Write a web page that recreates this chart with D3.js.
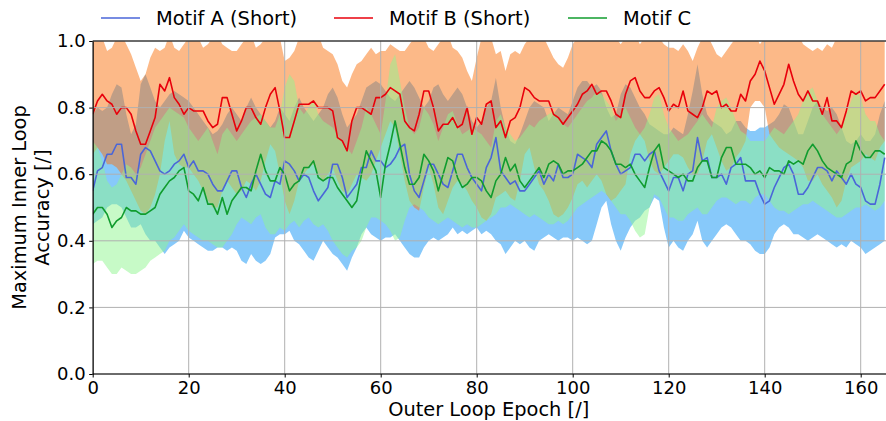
<!DOCTYPE html>
<html><head><meta charset="utf-8">
<script src="https://cdn.jsdelivr.net/npm/d3@7/dist/d3.min.js"></script>
<style>body{margin:0;background:#fff}svg{display:block}text{font-family:"DejaVu Sans",sans-serif;fill:#000}</style>
</head><body><svg id="chart" width="886" height="421"></svg>
<script>
const seriesNames = ["Motif A (Short)", "Motif B (Short)", "Motif C"];
const xTicks = [0, 20, 40, 60, 80, 100, 120, 140, 160];
const yTicks = [0.0, 0.2, 0.4, 0.6, 0.8, 1.0];
const xLabel = "Outer Loop Epoch [/]";
const yLabelLines = ["Maximum Inner Loop", "Accuracy [/]"];

const meanA = [0.55,0.61,0.62,0.66,0.66,0.69,0.69,0.59,0.59,0.57,
 0.66,0.68,0.67,0.64,0.61,0.60,0.61,0.63,0.64,0.66,
 0.62,0.64,0.61,0.61,0.60,0.57,0.55,0.55,0.58,0.61,
 0.61,0.56,0.53,0.57,0.60,0.57,0.54,0.53,0.58,0.57,
 0.64,0.63,0.61,0.58,0.60,0.59,0.55,0.52,0.54,0.56,
 0.63,0.63,0.59,0.53,0.55,0.57,0.62,0.62,0.67,0.64,
 0.64,0.62,0.63,0.65,0.68,0.69,0.60,0.55,0.53,0.58,
 0.63,0.63,0.60,0.57,0.56,0.61,0.66,0.66,0.62,0.59,
 0.57,0.55,0.62,0.65,0.71,0.61,0.59,0.57,0.58,0.55,
 0.55,0.57,0.59,0.61,0.57,0.60,0.58,0.63,0.59,0.59,
 0.60,0.66,0.65,0.64,0.62,0.69,0.71,0.73,0.67,0.63,
 0.60,0.61,0.62,0.66,0.66,0.64,0.66,0.67,0.61,0.58,
 0.55,0.59,0.59,0.55,0.60,0.61,0.71,0.64,0.65,0.59,
 0.59,0.60,0.57,0.62,0.63,0.65,0.58,0.58,0.58,0.54,
 0.51,0.52,0.56,0.59,0.62,0.63,0.60,0.54,0.54,0.56,
 0.59,0.62,0.62,0.61,0.58,0.61,0.59,0.57,0.60,0.57,
 0.56,0.52,0.51,0.51,0.57,0.65];
const lowA = [0.45,0.46,0.47,0.50,0.51,0.51,0.50,0.47,0.44,0.44,
 0.45,0.42,0.40,0.40,0.38,0.36,0.38,0.39,0.40,0.43,
 0.41,0.40,0.39,0.38,0.37,0.37,0.38,0.38,0.37,0.38,
 0.37,0.34,0.33,0.36,0.34,0.33,0.34,0.36,0.41,0.42,
 0.42,0.43,0.40,0.39,0.37,0.35,0.34,0.37,0.40,0.38,
 0.36,0.35,0.33,0.31,0.35,0.38,0.42,0.44,0.42,0.41,
 0.40,0.41,0.41,0.42,0.40,0.38,0.36,0.35,0.35,0.38,
 0.40,0.41,0.40,0.41,0.42,0.44,0.42,0.43,0.42,0.43,
 0.44,0.42,0.43,0.42,0.40,0.39,0.36,0.38,0.40,0.39,
 0.40,0.38,0.37,0.40,0.41,0.42,0.41,0.40,0.41,0.41,
 0.40,0.41,0.40,0.39,0.40,0.45,0.50,0.52,0.45,0.40,
 0.37,0.41,0.44,0.46,0.47,0.49,0.50,0.53,0.52,0.44,
 0.38,0.40,0.38,0.37,0.40,0.42,0.46,0.40,0.38,0.40,
 0.42,0.44,0.45,0.44,0.42,0.40,0.40,0.39,0.37,0.36,
 0.36,0.38,0.42,0.44,0.45,0.44,0.42,0.42,0.41,0.40,
 0.41,0.42,0.41,0.40,0.39,0.38,0.39,0.38,0.40,0.39,
 0.38,0.36,0.37,0.38,0.39,0.40];
const highA = [0.78,0.80,0.79,0.80,0.84,0.87,0.86,0.78,0.72,0.75,
 0.87,0.90,0.86,0.82,0.80,0.82,0.84,0.85,0.84,0.83,
 0.82,0.80,0.78,0.76,0.74,0.72,0.73,0.75,0.78,0.80,
 0.78,0.76,0.80,0.83,0.80,0.78,0.76,0.74,0.76,0.80,
 0.78,0.76,0.80,0.83,0.80,0.78,0.76,0.78,0.80,0.84,
 0.86,0.83,0.78,0.74,0.76,0.78,0.82,0.86,0.87,0.88,
 0.87,0.85,0.83,0.82,0.84,0.86,0.88,0.86,0.83,0.80,
 0.82,0.86,0.87,0.84,0.82,0.84,0.86,0.84,0.80,0.76,
 0.74,0.76,0.80,0.82,0.89,0.80,0.74,0.70,0.69,0.72,
 0.76,0.80,0.82,0.81,0.80,0.76,0.78,0.80,0.79,0.78,
 0.82,0.86,0.88,0.88,0.86,0.87,0.85,0.80,0.77,0.78,
 0.84,0.87,0.86,0.83,0.80,0.78,0.75,0.74,0.73,0.72,
 0.72,0.74,0.73,0.72,0.78,0.85,0.93,0.84,0.78,0.76,
 0.75,0.74,0.72,0.73,0.76,0.76,0.74,0.73,0.73,0.74,
 0.74,0.75,0.76,0.78,0.81,0.80,0.76,0.72,0.72,0.76,
 0.80,0.82,0.80,0.79,0.80,0.78,0.74,0.70,0.69,0.70,
 0.72,0.70,0.70,0.72,0.78,0.82];

const meanB = [0.78,0.82,0.84,0.82,0.81,0.78,0.80,0.80,0.78,0.73,
 0.69,0.69,0.73,0.77,0.87,0.85,0.89,0.83,0.81,0.78,
 0.80,0.79,0.79,0.79,0.76,0.74,0.75,0.83,0.83,0.78,
 0.73,0.76,0.80,0.80,0.77,0.75,0.80,0.84,0.86,0.79,
 0.71,0.71,0.76,0.81,0.81,0.81,0.82,0.80,0.80,0.80,
 0.79,0.71,0.70,0.67,0.76,0.80,0.80,0.79,0.78,0.83,
 0.83,0.84,0.86,0.85,0.84,0.76,0.74,0.73,0.78,0.85,
 0.85,0.80,0.73,0.75,0.75,0.77,0.74,0.75,0.80,0.72,
 0.77,0.75,0.81,0.82,0.74,0.76,0.71,0.76,0.77,0.80,
 0.86,0.85,0.83,0.82,0.82,0.82,0.78,0.77,0.75,0.77,
 0.79,0.81,0.84,0.85,0.87,0.84,0.85,0.85,0.82,0.78,
 0.77,0.84,0.88,0.89,0.85,0.83,0.83,0.85,0.86,0.83,
 0.79,0.81,0.80,0.85,0.79,0.78,0.77,0.80,0.85,0.84,
 0.85,0.80,0.81,0.79,0.79,0.84,0.82,0.88,0.90,0.94,
 0.91,0.86,0.81,0.84,0.87,0.93,0.88,0.84,0.82,0.85,
 0.82,0.82,0.78,0.83,0.76,0.76,0.74,0.79,0.85,0.84,
 0.85,0.82,0.83,0.83,0.85,0.87];
const lowB = [0.66,0.68,0.66,0.63,0.63,0.62,0.60,0.58,0.55,0.52,
 0.49,0.48,0.50,0.54,0.60,0.70,0.76,0.66,0.63,0.62,
 0.62,0.60,0.58,0.55,0.52,0.50,0.50,0.55,0.58,0.56,
 0.54,0.55,0.58,0.57,0.55,0.58,0.64,0.69,0.67,0.60,
 0.52,0.48,0.52,0.58,0.60,0.62,0.63,0.60,0.58,0.60,
 0.62,0.58,0.55,0.54,0.57,0.60,0.59,0.58,0.60,0.64,
 0.68,0.72,0.76,0.74,0.66,0.58,0.52,0.50,0.49,0.56,
 0.62,0.57,0.50,0.48,0.52,0.56,0.58,0.57,0.55,0.52,
 0.50,0.47,0.46,0.48,0.53,0.54,0.55,0.53,0.52,0.58,
 0.66,0.68,0.62,0.57,0.55,0.52,0.48,0.47,0.48,0.50,
 0.53,0.57,0.58,0.56,0.58,0.60,0.58,0.54,0.52,0.53,
 0.55,0.57,0.66,0.70,0.72,0.70,0.64,0.61,0.60,0.62,
 0.64,0.66,0.66,0.65,0.62,0.60,0.60,0.64,0.70,0.72,
 0.68,0.64,0.61,0.62,0.65,0.67,0.70,0.80,0.82,0.82,
 0.80,0.72,0.70,0.68,0.67,0.66,0.65,0.64,0.62,0.58,
 0.58,0.60,0.57,0.55,0.53,0.50,0.52,0.58,0.62,0.63,
 0.64,0.66,0.65,0.64,0.68,0.70];
const highB = [1.02,1.02,1.01,0.97,0.98,1.01,1.02,0.99,0.96,0.92,
 0.88,0.90,0.95,0.98,0.97,0.98,1.02,0.98,0.97,0.99,
 1.01,1.02,1.01,0.98,0.99,1.01,1.02,0.99,0.98,0.97,
 0.97,0.99,1.01,1.02,0.98,0.99,1.01,1.02,1.02,1.01,
 0.94,0.95,0.97,1.01,1.02,1.02,1.01,1.02,0.98,0.97,
 0.96,0.93,0.88,0.86,0.90,0.93,0.94,0.96,0.98,0.96,
 0.97,0.97,0.99,0.98,0.97,0.97,0.99,1.01,1.02,1.01,
 0.98,0.97,0.99,1.01,1.02,0.98,0.97,0.95,0.91,0.88,
 0.95,1.01,1.02,1.01,0.96,0.97,0.91,0.96,0.97,0.96,
 0.99,1.01,1.02,1.02,1.01,0.98,0.95,0.93,0.92,0.95,
 0.99,1.01,1.02,1.02,1.01,1.02,1.02,1.01,1.02,1.01,
 0.99,1.01,1.02,1.02,0.99,1.01,1.02,1.02,1.01,0.99,
 0.98,0.98,0.97,0.99,0.97,0.94,0.98,1.01,1.02,0.99,
 0.96,0.95,0.97,0.99,1.01,1.02,1.01,1.02,1.02,0.99,
 1.01,1.02,1.02,1.01,1.02,1.02,1.01,1.02,0.99,0.98,
 0.97,0.98,0.97,0.99,0.98,1.01,1.02,1.02,1.01,1.02,
 1.02,1.01,1.02,1.02,1.01,1.02];

const meanC = [0.48,0.50,0.50,0.48,0.44,0.46,0.47,0.50,0.49,0.49,
 0.48,0.48,0.49,0.50,0.54,0.56,0.58,0.59,0.61,0.62,
 0.55,0.54,0.52,0.56,0.51,0.51,0.48,0.53,0.48,0.52,
 0.54,0.56,0.56,0.55,0.61,0.66,0.61,0.58,0.58,0.62,
 0.60,0.55,0.57,0.58,0.62,0.62,0.64,0.59,0.58,0.59,
 0.59,0.56,0.54,0.52,0.50,0.52,0.60,0.67,0.64,0.61,
 0.53,0.63,0.69,0.76,0.69,0.62,0.57,0.57,0.59,0.66,
 0.64,0.61,0.55,0.60,0.65,0.64,0.59,0.56,0.57,0.59,
 0.59,0.58,0.55,0.53,0.58,0.60,0.65,0.61,0.63,0.58,
 0.56,0.58,0.60,0.62,0.59,0.63,0.64,0.63,0.60,0.61,
 0.61,0.62,0.63,0.65,0.67,0.67,0.70,0.69,0.67,0.63,
 0.63,0.62,0.63,0.60,0.58,0.56,0.62,0.67,0.69,0.62,
 0.61,0.60,0.59,0.60,0.58,0.58,0.62,0.64,0.64,0.59,
 0.59,0.65,0.68,0.68,0.63,0.63,0.63,0.62,0.60,0.61,
 0.59,0.62,0.61,0.61,0.60,0.64,0.63,0.64,0.63,0.67,
 0.69,0.67,0.64,0.62,0.61,0.60,0.59,0.63,0.64,0.70,
 0.67,0.65,0.65,0.67,0.67,0.66];
const lowC = [0.33,0.34,0.34,0.32,0.30,0.30,0.32,0.31,0.30,0.30,
 0.31,0.32,0.34,0.35,0.36,0.37,0.40,0.41,0.43,0.45,
 0.43,0.42,0.41,0.40,0.40,0.39,0.38,0.38,0.40,0.42,
 0.45,0.47,0.46,0.45,0.47,0.48,0.44,0.42,0.42,0.44,
 0.43,0.45,0.46,0.44,0.46,0.47,0.45,0.44,0.45,0.43,
 0.40,0.38,0.36,0.35,0.37,0.38,0.40,0.44,0.47,0.47,
 0.46,0.45,0.43,0.40,0.41,0.46,0.50,0.51,0.50,0.49,
 0.47,0.46,0.45,0.46,0.47,0.46,0.45,0.44,0.45,0.44,
 0.44,0.45,0.46,0.47,0.48,0.50,0.50,0.51,0.50,0.49,
 0.48,0.47,0.48,0.47,0.46,0.45,0.45,0.46,0.45,0.46,
 0.48,0.50,0.51,0.52,0.53,0.54,0.55,0.54,0.52,0.50,
 0.48,0.48,0.46,0.43,0.41,0.42,0.50,0.54,0.53,0.50,
 0.47,0.47,0.46,0.46,0.48,0.49,0.50,0.48,0.48,0.50,
 0.52,0.53,0.53,0.52,0.51,0.52,0.52,0.51,0.53,0.54,
 0.54,0.52,0.50,0.49,0.49,0.48,0.49,0.50,0.51,0.51,
 0.52,0.51,0.50,0.49,0.48,0.47,0.47,0.48,0.49,0.50,
 0.50,0.51,0.50,0.49,0.50,0.52];
const highC = [0.70,0.68,0.64,0.58,0.56,0.57,0.60,0.63,0.62,0.60,
 0.62,0.66,0.70,0.74,0.76,0.78,0.80,0.79,0.78,0.77,
 0.74,0.72,0.70,0.72,0.74,0.70,0.66,0.72,0.74,0.72,
 0.70,0.72,0.74,0.76,0.77,0.78,0.76,0.74,0.74,0.78,
 0.86,0.90,0.88,0.80,0.78,0.80,0.82,0.78,0.76,0.75,
 0.74,0.72,0.70,0.68,0.66,0.70,0.74,0.80,0.78,0.75,
 0.72,0.82,0.93,0.96,0.88,0.80,0.74,0.72,0.74,0.80,
 0.78,0.75,0.70,0.74,0.78,0.79,0.75,0.72,0.73,0.74,
 0.73,0.72,0.70,0.68,0.76,0.78,0.74,0.72,0.70,0.71,
 0.73,0.75,0.74,0.76,0.77,0.78,0.79,0.77,0.75,0.74,
 0.76,0.78,0.80,0.82,0.83,0.85,0.84,0.82,0.80,0.76,
 0.78,0.80,0.77,0.74,0.72,0.74,0.78,0.83,0.84,0.78,
 0.74,0.72,0.70,0.71,0.72,0.74,0.76,0.78,0.76,0.74,
 0.80,0.82,0.83,0.80,0.76,0.73,0.72,0.70,0.70,0.70,
 0.70,0.72,0.74,0.73,0.72,0.74,0.76,0.78,0.82,0.85,
 0.86,0.82,0.78,0.76,0.74,0.72,0.74,0.78,0.82,0.85,
 0.83,0.78,0.76,0.76,0.72,0.70];

const series = [
  {name: seriesNames[0], mean: meanA, low: lowA, high: highA, fill: "#0f93f5", line: "#4a66d8"},
  {name: seriesNames[1], mean: meanB, low: lowB, high: highB, fill: "#f97311", line: "#e8000b"},
  {name: seriesNames[2], mean: meanC, low: lowC, high: highC, fill: "#90f590", line: "#109c2e"}
];

const W = 886, H = 421;
const L = 92.7, T = 41, B = 374, R = 886;
const x = d3.scaleLinear().domain([0, 165]).range([L, L + 165 * 4.8]);
const y = d3.scaleLinear().domain([0, 1]).range([B, T]);

const svg = d3.select("#chart");
svg.append("defs").append("clipPath").attr("id", "clip")
  .append("rect").attr("x", L).attr("y", T).attr("width", R - L).attr("height", B - T);

const plot = svg.append("g").attr("clip-path", "url(#clip)");

// bands
series.forEach(s => {
  const area = d3.area().x((d, i) => x(i)).y0((d, i) => y(s.low[i])).y1((d, i) => y(s.high[i]));
  plot.append("path").datum(s.mean).attr("d", area)
    .attr("fill", s.fill).attr("fill-opacity", 0.5).attr("stroke", "none");
});

// grid
const grid = svg.append("g").attr("stroke", "#b0b0b0").attr("stroke-width", 1);
xTicks.forEach(t => grid.append("line").attr("x1", x(t)).attr("x2", x(t)).attr("y1", T).attr("y2", B));
yTicks.forEach(t => grid.append("line").attr("x1", L).attr("x2", R).attr("y1", y(t)).attr("y2", y(t)));

// lines
series.forEach(s => {
  const line = d3.line().x((d, i) => x(i)).y(d => y(d));
  plot.append("path").datum(s.mean).attr("d", line)
    .attr("fill", "none").attr("stroke", s.line).attr("stroke-width", 1.6)
    .attr("stroke-linejoin", "round");
});

// axes
const yAxis = d3.axisLeft(y).tickValues(yTicks).tickFormat(d3.format(".1f")).tickSize(3.5).tickSizeOuter(0).tickPadding(3.5);
const gy = svg.append("g").attr("transform", `translate(${L},0)`).call(yAxis);
gy.selectAll("text").style("font-size", "18px").style("font-family", "DejaVu Sans");
gy.selectAll("line").attr("stroke", "#000");
gy.select(".domain").attr("stroke", "#000").attr("stroke-width", 1.1);

const xAxis = d3.axisBottom(x).tickValues(xTicks).tickFormat(d3.format("d")).tickSize(3.5).tickSizeOuter(0).tickPadding(4);
const gx = svg.append("g").attr("transform", `translate(0,${B})`).call(xAxis);
gx.selectAll("text").style("font-size", "18px").style("font-family", "DejaVu Sans");
gx.selectAll("line").attr("stroke", "#000");
gx.select(".domain").remove();
svg.append("line").attr("x1", L).attr("x2", R).attr("y1", B).attr("y2", B).attr("stroke", "#000").attr("stroke-width", 1.1);
svg.append("line").attr("x1", L).attr("x2", R).attr("y1", T).attr("y2", T).attr("stroke", "#000").attr("stroke-width", 1.1);

// axis labels
svg.append("text").attr("x", (L + x(165)) / 2).attr("y", 416).attr("text-anchor", "middle")
  .style("font-size", "19.4px").text(xLabel);
const yl = svg.append("text").attr("transform", `translate(26,${(T + B) / 2}) rotate(-90)`)
  .attr("text-anchor", "middle").style("font-size", "19.4px");
yLabelLines.forEach((t, i) => yl.append("tspan").attr("x", 0).attr("y", i * 23.3).text(t));

// legend
const legendPos = [101, 334, 568];
series.forEach((s, i) => {
  const g = svg.append("g").attr("transform", `translate(${legendPos[i]},18)`);
  g.append("line").attr("x1", 0).attr("x2", 39).attr("y1", 0).attr("y2", 0)
    .attr("stroke", s.line).attr("stroke-width", 1.6);
  g.append("text").attr("x", 55).attr("y", 7).style("font-size", "19.4px").text(s.name);
});
</script></body></html>
